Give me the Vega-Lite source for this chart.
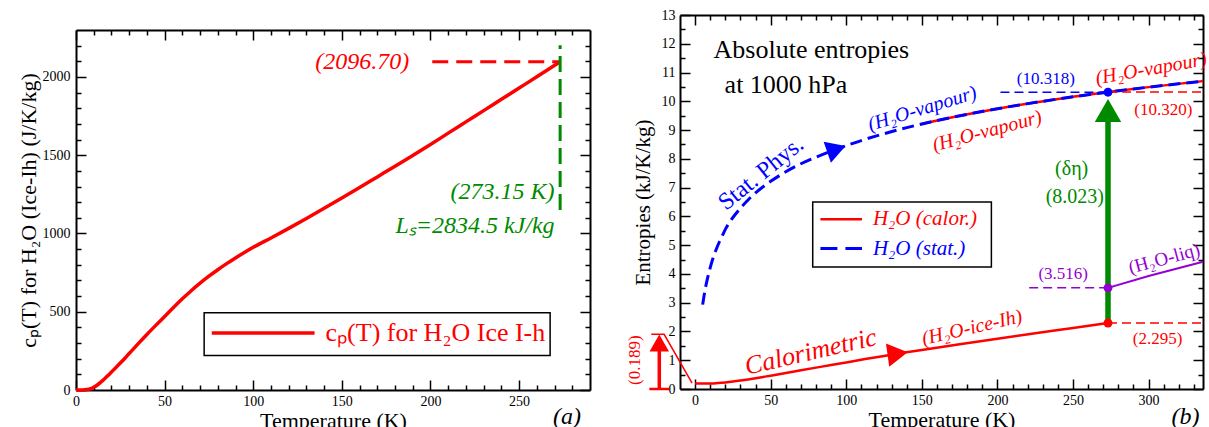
{
  "$schema": "https://vega.github.io/schema/vega-lite/v6.json",
  "background": "white",
  "padding": {"left": 17, "top": 8, "right": 0, "bottom": 0},
  "config": {"view": {"stroke": null}, "font": "Liberation Serif", "axis": {"grid": false}},
  "datasets": {
    "cp": [
      {"T": 0, "cp": 0}, {"T": 3, "cp": 0.5}, {"T": 5, "cp": 2}, {"T": 7, "cp": 5}, {"T": 9, "cp": 11},
      {"T": 10, "cp": 17}, {"T": 12, "cp": 32}, {"T": 14, "cp": 50}, {"T": 16, "cp": 70}, {"T": 18, "cp": 92},
      {"T": 20, "cp": 115}, {"T": 22, "cp": 138}, {"T": 25, "cp": 172}, {"T": 28, "cp": 208}, {"T": 30, "cp": 233},
      {"T": 35, "cp": 295}, {"T": 40, "cp": 355}, {"T": 45, "cp": 413}, {"T": 50, "cp": 470}, {"T": 55, "cp": 527.5},
      {"T": 60, "cp": 582.5}, {"T": 65, "cp": 634.5}, {"T": 70, "cp": 682.5}, {"T": 75, "cp": 727}, {"T": 80, "cp": 768.5},
      {"T": 85, "cp": 807.5}, {"T": 90, "cp": 844}, {"T": 95, "cp": 878.5}, {"T": 100, "cp": 911.5}, {"T": 110, "cp": 971.5},
      {"T": 120, "cp": 1032.5}, {"T": 130, "cp": 1095.5}, {"T": 140, "cp": 1160.5}, {"T": 150, "cp": 1226.5}, {"T": 160, "cp": 1293.5},
      {"T": 170, "cp": 1361.5}, {"T": 180, "cp": 1429.5}, {"T": 190, "cp": 1498.5}, {"T": 200, "cp": 1568.5}, {"T": 210, "cp": 1641},
      {"T": 220, "cp": 1713}, {"T": 230, "cp": 1785}, {"T": 240, "cp": 1857}, {"T": 250, "cp": 1929}, {"T": 260, "cp": 2001},
      {"T": 273.15, "cp": 2096.7}
    ],
    "ice": [
      {"T": 0, "S": 0.189}, {"T": 5, "S": 0.189}, {"T": 10, "S": 0.19}, {"T": 15, "S": 0.205}, {"T": 20, "S": 0.228},
      {"T": 25, "S": 0.258}, {"T": 30, "S": 0.294}, {"T": 35, "S": 0.334}, {"T": 40, "S": 0.376}, {"T": 45, "S": 0.42},
      {"T": 50, "S": 0.464}, {"T": 60, "S": 0.555}, {"T": 70, "S": 0.65}, {"T": 80, "S": 0.743}, {"T": 90, "S": 0.835},
      {"T": 100, "S": 0.923}, {"T": 112.5, "S": 1.04}, {"T": 125, "S": 1.15}, {"T": 137.5, "S": 1.257}, {"T": 150, "S": 1.359},
      {"T": 175, "S": 1.557}, {"T": 200, "S": 1.749}, {"T": 225, "S": 1.937}, {"T": 250, "S": 2.123}, {"T": 273.15, "S": 2.295}
    ],
    "vap": [
      {"T": 5, "S": 2.932}, {"T": 6, "S": 3.27}, {"T": 7, "S": 3.554}, {"T": 8, "S": 3.8}, {"T": 9, "S": 4.02},
      {"T": 10, "S": 4.22}, {"T": 12, "S": 4.57}, {"T": 14, "S": 4.86}, {"T": 16, "S": 5.11}, {"T": 18, "S": 5.33},
      {"T": 20, "S": 5.55}, {"T": 23, "S": 5.81}, {"T": 26, "S": 6.03}, {"T": 30, "S": 6.29}, {"T": 35, "S": 6.57},
      {"T": 40, "S": 6.82}, {"T": 45, "S": 7.03}, {"T": 50, "S": 7.22}, {"T": 60, "S": 7.55}, {"T": 70, "S": 7.83},
      {"T": 80, "S": 8.06}, {"T": 90, "S": 8.27}, {"T": 100, "S": 8.463}, {"T": 120, "S": 8.799}, {"T": 140, "S": 9.085},
      {"T": 160, "S": 9.33}, {"T": 180, "S": 9.548}, {"T": 200, "S": 9.742}, {"T": 220, "S": 9.919}, {"T": 240, "S": 10.08},
      {"T": 260, "S": 10.228}, {"T": 273.15, "S": 10.318}, {"T": 290, "S": 10.429}, {"T": 310, "S": 10.552}, {"T": 336, "S": 10.7}
    ],
    "vapcal": [
      {"T": 150, "S": 9.212}, {"T": 175, "S": 9.496}, {"T": 200, "S": 9.744}, {"T": 225, "S": 9.962},
      {"T": 250, "S": 10.156}, {"T": 273.15, "S": 10.32}, {"T": 300, "S": 10.493}, {"T": 336, "S": 10.702}
    ],
    "liq": [
      {"T": 273.15, "S": 3.516}, {"T": 300, "S": 3.93}, {"T": 336, "S": 4.42}
    ]
  },
  "spacing": 35,
  "hconcat": [
    {
      "bounds": "flush",
      "spacing": 0,
      "vconcat": [
        {"width": 514, "height": 15, "data": {"values": [{"a": 1}]}, "mark": {"type": "point", "opacity": 0}},
        {
          "width": 514,
          "height": 360,
          "resolve": {"scale": {"x": "independent", "y": "independent"}},
          "layer": [
            {
              "encoding": {
                "x": {"field": "T", "type": "quantitative", "scale": {"domain": [0, 290], "nice": false, "zero": false},
                  "axis": {"orient": "bottom", "values": [0, 50, 100, 150, 200, 250], "format": "d", "tickSize": -10, "tickWidth": 1.5, "tickColor": "black",
                    "domain": true, "domainColor": "black", "domainWidth": 2, "labelFont": "Liberation Serif", "labelFontSize": 14, "labelColor": "black",
                    "labelPadding": 14, "labelFlush": false, "labelOverlap": false, "title": "Temperature (K)", "titleFont": "Liberation Serif",
                    "titleFontSize": 22, "titleFontWeight": "normal", "titleColor": "black", "titlePadding": 2}},
                "y": {"field": "cp", "type": "quantitative", "scale": {"domain": [0, 2300], "nice": false, "zero": false},
                  "axis": {"orient": "left", "values": [0, 500, 1000, 1500, 2000], "format": "d", "tickSize": -10, "tickWidth": 1.5, "tickColor": "black",
                    "domain": true, "domainColor": "black", "domainWidth": 2, "labelFont": "Liberation Serif", "labelFontSize": 14, "labelColor": "black",
                    "labelPadding": 16, "labelFlush": false, "labelOverlap": false, "title": "cₚ(T) for H₂O (Ice-Ih) (J/K/kg)", "titleFont": "Liberation Serif",
                    "titleFontSize": 22, "titleFontWeight": "normal", "titleColor": "black", "titlePadding": 2}}
              },
              "layer": [
                {"data": {"values": [{"T": 72.3, "T2": 267.5, "cp": 221, "cp2": 493}]},
                 "mark": {"type": "rect", "fill": "white", "stroke": "black", "strokeWidth": 1.5},
                 "encoding": {"x2": {"field": "T2"}, "y2": {"field": "cp2"}}},
                {"data": {"name": "cp"}, "mark": {"type": "line", "color": "#ff0000", "strokeWidth": 3.5, "interpolate": "monotone"}},
                {"data": {"values": [{"T": 201, "T2": 273.15, "cp": 2096.7}]},
                 "mark": {"type": "rule", "color": "#ff0000", "strokeWidth": 3, "strokeDash": [16, 8]},
                 "encoding": {"x2": {"field": "T2"}}},
                {"data": {"values": [{"T": 273.15, "cp": 1150, "cp2": 2202}]},
                 "mark": {"type": "rule", "color": "#008a00", "strokeWidth": 3, "strokeDash": [16, 7]},
                 "encoding": {"y2": {"field": "cp2"}}},
                {"data": {"values": [{"T": 76.6, "T2": 134.6, "cp": 364}]},
                 "mark": {"type": "rule", "color": "#ff0000", "strokeWidth": 3.5},
                 "encoding": {"x2": {"field": "T2"}}},
                {"data": {"values": [{"T": 188, "cp": 2093, "label": "(2096.70)"}]},
                 "mark": {"type": "text", "color": "#ff0000", "font": "Liberation Serif", "fontStyle": "italic", "fontSize": 24, "align": "right", "baseline": "middle"},
                 "encoding": {"text": {"field": "label"}}},
                {"data": {"values": [{"T": 270, "cp": 1262, "label": "(273.15 K)"}, {"T": 270, "cp": 1045, "label": "Lₛ=2834.5 kJ/kg"}]},
                 "mark": {"type": "text", "color": "#008a00", "font": "Liberation Serif", "fontStyle": "italic", "fontSize": 24, "align": "right", "baseline": "middle"},
                 "encoding": {"text": {"field": "label"}}},
                {"data": {"values": [{"T": 140.8, "cp": 364, "label": "cₚ(T) for H₂O Ice I-h"}]},
                 "mark": {"type": "text", "color": "#ff0000", "font": "Liberation Serif", "fontSize": 26, "align": "left", "baseline": "middle"},
                 "encoding": {"text": {"field": "label"}}},
                {"data": {"values": [{"T": 277, "cp": -170, "label": "(a)"}]},
                 "mark": {"type": "text", "color": "black", "font": "Liberation Serif", "fontStyle": "italic", "fontSize": 24, "align": "center", "baseline": "middle"},
                 "encoding": {"text": {"field": "label"}}}
              ]
            },
            {
              "data": {"values": [{"T": 0, "cp": 0}]},
              "mark": {"type": "point", "opacity": 0},
              "encoding": {
                "x": {"field": "T", "type": "quantitative", "scale": {"domain": [0, 290], "nice": false, "zero": false},
                  "axis": {"orient": "bottom", "values": [10, 20, 30, 40, 60, 70, 80, 90, 110, 120, 130, 140, 160, 170, 180, 190, 210, 220, 230, 240, 260, 270, 280],
                    "tickSize": -5, "tickWidth": 1.5, "tickColor": "black", "domain": false, "labels": false, "title": null}},
                "y": {"field": "cp", "type": "quantitative", "scale": {"domain": [0, 2300], "nice": false, "zero": false},
                  "axis": {"orient": "left", "values": [100, 200, 300, 400, 600, 700, 800, 900, 1100, 1200, 1300, 1400, 1600, 1700, 1800, 1900, 2100, 2200],
                    "tickSize": -5, "tickWidth": 1.5, "tickColor": "black", "domain": false, "labels": false, "title": null}}
              }
            },
            {
              "data": {"values": [{"T": 0, "cp": 0}]},
              "mark": {"type": "point", "opacity": 0},
              "encoding": {
                "x": {"field": "T", "type": "quantitative", "scale": {"domain": [0, 290], "nice": false, "zero": false},
                  "axis": {"orient": "top", "values": [0, 50, 100, 150, 200, 250],
                    "tickSize": -10, "tickWidth": 1.5, "tickColor": "black", "domain": true, "domainColor": "black", "domainWidth": 2, "labels": false, "title": null}},
                "y": {"field": "cp", "type": "quantitative", "scale": {"domain": [0, 2300], "nice": false, "zero": false},
                  "axis": {"orient": "right", "values": [0, 500, 1000, 1500, 2000],
                    "tickSize": -10, "tickWidth": 1.5, "tickColor": "black", "domain": true, "domainColor": "black", "domainWidth": 2, "labels": false, "title": null}}
              }
            },
            {
              "data": {"values": [{"T": 0, "cp": 0}]},
              "mark": {"type": "point", "opacity": 0},
              "encoding": {
                "x": {"field": "T", "type": "quantitative", "scale": {"domain": [0, 290], "nice": false, "zero": false},
                  "axis": {"orient": "top", "values": [10, 20, 30, 40, 60, 70, 80, 90, 110, 120, 130, 140, 160, 170, 180, 190, 210, 220, 230, 240, 260, 270, 280],
                    "tickSize": -5, "tickWidth": 1.5, "tickColor": "black", "domain": false, "labels": false, "title": null}},
                "y": {"field": "cp", "type": "quantitative", "scale": {"domain": [0, 2300], "nice": false, "zero": false},
                  "axis": {"orient": "right", "values": [100, 200, 300, 400, 600, 700, 800, 900, 1100, 1200, 1300, 1400, 1600, 1700, 1800, 1900, 2100, 2200],
                    "tickSize": -5, "tickWidth": 1.5, "tickColor": "black", "domain": false, "labels": false, "title": null}}
              }
            }
          ]
        }
      ]
    },
    {
      "width": 523,
      "height": 374,
      "resolve": {"scale": {"x": "independent", "y": "independent"}},
      "layer": [
        {
          "encoding": {
            "x": {"field": "T", "type": "quantitative", "scale": {"domain": [-10, 336], "nice": false, "zero": false},
              "axis": {"orient": "bottom", "values": [0, 50, 100, 150, 200, 250, 300], "format": "d", "tickSize": -10, "tickWidth": 1.5, "tickColor": "black",
                "domain": true, "domainColor": "black", "domainWidth": 2, "labelFont": "Liberation Serif", "labelFontSize": 14, "labelColor": "black",
                "labelPadding": 14, "labelFlush": false, "labelOverlap": false, "title": "Temperature (K)", "titleFont": "Liberation Serif",
                "titleFontSize": 22, "titleFontWeight": "normal", "titleColor": "black", "titlePadding": 2}},
            "y": {"field": "S", "type": "quantitative", "scale": {"domain": [0, 13], "nice": false, "zero": false},
              "axis": {"orient": "left", "values": [0, 1, 2, 3, 4, 5, 6, 7, 8, 9, 10, 11, 12, 13], "format": "d", "tickSize": -10, "tickWidth": 1.5, "tickColor": "black",
                "domain": true, "domainColor": "black", "domainWidth": 2, "labelFont": "Liberation Serif", "labelFontSize": 14, "labelColor": "black",
                "labelPadding": 15, "labelFlush": false, "labelOverlap": false, "title": "Entropies (kJ/K/kg)", "titleFont": "Liberation Serif",
                "titleFontSize": 21, "titleFontWeight": "normal", "titleColor": "black", "titlePadding": 8}}
          },
          "layer": [
            {"data": {"values": [{"T": 77.8, "T2": 196, "S": 4.24, "S2": 6.5}]},
             "mark": {"type": "rect", "fill": "white", "stroke": "black", "strokeWidth": 1.5},
             "encoding": {"x2": {"field": "T2"}, "y2": {"field": "S2"}}},
            {"data": {"name": "vapcal"}, "mark": {"type": "line", "color": "#ff0000", "strokeWidth": 2.5, "interpolate": "monotone"}},
            {"data": {"name": "vap"}, "mark": {"type": "line", "color": "#0000ff", "strokeWidth": 3, "strokeDash": [12, 6], "interpolate": "monotone"}},
            {"data": {"name": "ice"}, "mark": {"type": "line", "color": "#ff0000", "strokeWidth": 2.5, "interpolate": "monotone"}},
            {"data": {"name": "liq"}, "mark": {"type": "line", "color": "#9400d3", "strokeWidth": 2}},
            {"data": {"values": [{"T": 202, "T2": 273.15, "S": 10.318}]},
             "mark": {"type": "rule", "color": "#0000ff", "strokeWidth": 1.5, "strokeDash": [9, 5]},
             "encoding": {"x2": {"field": "T2"}}},
            {"data": {"values": [{"T": 273.15, "T2": 336, "S": 10.32}, {"T": 273.15, "T2": 336, "S": 2.295}]},
             "mark": {"type": "rule", "color": "#ff0000", "strokeWidth": 1.5, "strokeDash": [9, 5]},
             "encoding": {"x2": {"field": "T2"}}},
            {"data": {"values": [{"T": 221, "T2": 273.15, "S": 3.516}]},
             "mark": {"type": "rule", "color": "#9400d3", "strokeWidth": 1.5, "strokeDash": [9, 5]},
             "encoding": {"x2": {"field": "T2"}}},
            {"data": {"values": [{"T": 273.15, "S": 2.295, "S2": 9.5}]},
             "mark": {"type": "rule", "color": "#008a00", "strokeWidth": 5.5},
             "encoding": {"y2": {"field": "S2"}}},
            {"data": {"values": [{"T": 273.15, "S": 9.68}]},
             "mark": {"type": "point", "shape": "triangle-up", "filled": true, "opacity": 1, "color": "#008a00", "size": 700}},
            {"data": {"values": [{"T": 273.15, "S": 2.295}]},
             "mark": {"type": "point", "shape": "circle", "filled": true, "opacity": 1, "color": "#ff0000", "size": 80}},
            {"data": {"values": [{"T": 273.15, "S": 3.516}]},
             "mark": {"type": "point", "shape": "circle", "filled": true, "opacity": 1, "color": "#9400d3", "size": 80}},
            {"data": {"values": [{"T": 273.15, "S": 10.318}]},
             "mark": {"type": "point", "shape": "circle", "filled": true, "opacity": 1, "color": "#0000ff", "size": 80}},
            {"data": {"values": [{"T": 93.5, "S": 8.34}]},
             "mark": {"type": "point", "shape": "triangle-right", "filled": true, "opacity": 1, "color": "#0000ff", "size": 500, "angle": -19}},
            {"data": {"values": [{"T": 134, "S": 1.225}]},
             "mark": {"type": "point", "shape": "triangle-right", "filled": true, "opacity": 1, "color": "#ff0000", "size": 550, "angle": -8}},
            {"data": {"values": [{"T": -23.7, "S": 0, "S2": 1.5}]},
             "mark": {"type": "rule", "color": "#ff0000", "strokeWidth": 3.5},
             "encoding": {"y2": {"field": "S2"}}},
            {"data": {"values": [{"T": -23.7, "S": 1.6}]},
             "mark": {"type": "point", "shape": "triangle-up", "filled": true, "opacity": 1, "color": "#ff0000", "size": 380}},
            {"data": {"values": [{"T": -30.3, "T2": -17.1, "S": 0}]},
             "mark": {"type": "rule", "color": "#ff0000", "strokeWidth": 2.5},
             "encoding": {"x2": {"field": "T2"}}},
            {"data": {"values": [{"T": -29, "S": 1.9}, {"T": -20.5, "S": 1.9}, {"T": -2, "S": 0.2}]},
             "mark": {"type": "line", "color": "#ff0000", "strokeWidth": 1.5}},
            {"data": {"values": [{"T": 82.9, "T2": 110.4, "S": 5.9}]},
             "mark": {"type": "rule", "color": "#ff0000", "strokeWidth": 2.5},
             "encoding": {"x2": {"field": "T2"}}},
            {"data": {"values": [{"T": 82.9, "T2": 110.4, "S": 4.88}]},
             "mark": {"type": "rule", "color": "#0000ff", "strokeWidth": 3, "strokeDash": [17, 8]},
             "encoding": {"x2": {"field": "T2"}}},
            {"data": {"values": [{"T": 12.2, "S": 11.77, "label": "Absolute entropies"}, {"T": 19.5, "S": 10.55, "label": "at 1000 hPa"}]},
             "mark": {"type": "text", "color": "black", "font": "Liberation Serif", "fontSize": 26, "align": "left", "baseline": "middle"},
             "encoding": {"text": {"field": "label"}}},
            {"data": {"values": [{"T": 232, "S": 10.79, "label": "(10.318)"}]},
             "mark": {"type": "text", "color": "#0000ff", "font": "Liberation Serif", "fontSize": 17, "align": "center", "baseline": "middle"},
             "encoding": {"text": {"field": "label"}}},
            {"data": {"values": [{"T": 309.7, "S": 9.69, "label": "(10.320)"}, {"T": 306, "S": 1.75, "label": "(2.295)"}]},
             "mark": {"type": "text", "color": "#ff0000", "font": "Liberation Serif", "fontSize": 17, "align": "center", "baseline": "middle"},
             "encoding": {"text": {"field": "label"}}},
            {"data": {"values": [{"T": 265, "S": 10.79, "label": "(H₂O-vapour)"}]},
             "mark": {"type": "text", "color": "#ff0000", "font": "Liberation Serif", "fontStyle": "italic", "fontSize": 20, "align": "left", "baseline": "middle", "angle": -10},
             "encoding": {"text": {"field": "label"}}},
            {"data": {"values": [{"T": 150.3, "S": 9.74, "label": "(H₂O-vapour)"}]},
             "mark": {"type": "text", "color": "#0000ff", "font": "Liberation Serif", "fontStyle": "italic", "fontSize": 20, "align": "center", "baseline": "middle", "angle": -17},
             "encoding": {"text": {"field": "label"}}},
            {"data": {"values": [{"T": 193.2, "S": 8.96, "label": "(H₂O-vapour)"}]},
             "mark": {"type": "text", "color": "#ff0000", "font": "Liberation Serif", "fontStyle": "italic", "fontSize": 20, "align": "center", "baseline": "middle", "angle": -15},
             "encoding": {"text": {"field": "label"}}},
            {"data": {"values": [{"T": 43.7, "S": 7.49, "label": "Stat.  Phys."}]},
             "mark": {"type": "text", "color": "#0000ff", "font": "Liberation Serif", "fontSize": 24, "align": "center", "baseline": "middle", "angle": -39},
             "encoding": {"text": {"field": "label"}}},
            {"data": {"values": [{"T": 249.1, "S": 7.66, "label": "(δη)"}, {"T": 251.2, "S": 6.67, "label": "(8.023)"}]},
             "mark": {"type": "text", "color": "#008a00", "font": "Liberation Serif", "fontSize": 20, "align": "center", "baseline": "middle"},
             "encoding": {"text": {"field": "label"}}},
            {"data": {"values": [{"T": 243.5, "S": 3.99, "label": "(3.516)"}]},
             "mark": {"type": "text", "color": "#9400d3", "font": "Liberation Serif", "fontSize": 17, "align": "center", "baseline": "middle"},
             "encoding": {"text": {"field": "label"}}},
            {"data": {"values": [{"T": 310.3, "S": 4.53, "label": "(H₂O-liq)"}]},
             "mark": {"type": "text", "color": "#9400d3", "font": "Liberation Serif", "fontSize": 19, "align": "center", "baseline": "middle", "angle": -15},
             "encoding": {"text": {"field": "label"}}},
            {"data": {"values": [{"T": 183.2, "S": 2.13, "label": "(H₂O-ice-Ih)"}]},
             "mark": {"type": "text", "color": "#ff0000", "font": "Liberation Serif", "fontStyle": "italic", "fontSize": 20, "align": "center", "baseline": "middle", "angle": -13},
             "encoding": {"text": {"field": "label"}}},
            {"data": {"values": [{"T": 76.5, "S": 1.29, "label": "Calorimetric"}]},
             "mark": {"type": "text", "color": "#ff0000", "font": "Liberation Serif", "fontStyle": "italic", "fontSize": 26, "align": "center", "baseline": "middle", "angle": -13},
             "encoding": {"text": {"field": "label"}}},
            {"data": {"values": [{"T": -39.6, "S": 1.0, "label": "(0.189)"}]},
             "mark": {"type": "text", "color": "#ff0000", "font": "Liberation Serif", "fontSize": 17, "align": "center", "baseline": "middle", "angle": 270},
             "encoding": {"text": {"field": "label"}}},
            {"data": {"values": [{"T": 117.6, "S": 5.9, "label": "H₂O (calor.)"}]},
             "mark": {"type": "text", "color": "#ff0000", "font": "Liberation Serif", "fontStyle": "italic", "fontSize": 21, "align": "left", "baseline": "middle"},
             "encoding": {"text": {"field": "label"}}},
            {"data": {"values": [{"T": 117.6, "S": 4.88, "label": "H₂O (stat.)"}]},
             "mark": {"type": "text", "color": "#0000ff", "font": "Liberation Serif", "fontStyle": "italic", "fontSize": 21, "align": "left", "baseline": "middle"},
             "encoding": {"text": {"field": "label"}}},
            {"data": {"values": [{"T": 324.4, "S": -0.97, "label": "(b)"}]},
             "mark": {"type": "text", "color": "black", "font": "Liberation Serif", "fontStyle": "italic", "fontSize": 24, "align": "center", "baseline": "middle"},
             "encoding": {"text": {"field": "label"}}}
          ]
        },
        {
          "data": {"values": [{"T": 0, "S": 0}]},
          "mark": {"type": "point", "opacity": 0},
          "encoding": {
            "x": {"field": "T", "type": "quantitative", "scale": {"domain": [-10, 336], "nice": false, "zero": false},
              "axis": {"orient": "bottom", "values": [10, 20, 30, 40, 60, 70, 80, 90, 110, 120, 130, 140, 160, 170, 180, 190, 210, 220, 230, 240, 260, 270, 280, 290, 310, 320, 330],
                "tickSize": -5, "tickWidth": 1.5, "tickColor": "black", "domain": false, "labels": false, "title": null}},
            "y": {"field": "S", "type": "quantitative", "scale": {"domain": [0, 13], "nice": false, "zero": false},
              "axis": {"orient": "left", "values": [0.5, 1.5, 2.5, 3.5, 4.5, 5.5, 6.5, 7.5, 8.5, 9.5, 10.5, 11.5, 12.5],
                "tickSize": -5, "tickWidth": 1.5, "tickColor": "black", "domain": false, "labels": false, "title": null}}
          }
        },
        {
          "data": {"values": [{"T": 0, "S": 0}]},
          "mark": {"type": "point", "opacity": 0},
          "encoding": {
            "x": {"field": "T", "type": "quantitative", "scale": {"domain": [-10, 336], "nice": false, "zero": false},
              "axis": {"orient": "top", "values": [0, 50, 100, 150, 200, 250, 300],
                "tickSize": -10, "tickWidth": 1.5, "tickColor": "black", "domain": true, "domainColor": "black", "domainWidth": 2, "labels": false, "title": null}},
            "y": {"field": "S", "type": "quantitative", "scale": {"domain": [0, 13], "nice": false, "zero": false},
              "axis": {"orient": "right", "values": [0, 1, 2, 3, 4, 5, 6, 7, 8, 9, 10, 11, 12, 13],
                "tickSize": -10, "tickWidth": 1.5, "tickColor": "black", "domain": true, "domainColor": "black", "domainWidth": 2, "labels": false, "title": null}}
          }
        },
        {
          "data": {"values": [{"T": 0, "S": 0}]},
          "mark": {"type": "point", "opacity": 0},
          "encoding": {
            "x": {"field": "T", "type": "quantitative", "scale": {"domain": [-10, 336], "nice": false, "zero": false},
              "axis": {"orient": "top", "values": [10, 20, 30, 40, 60, 70, 80, 90, 110, 120, 130, 140, 160, 170, 180, 190, 210, 220, 230, 240, 260, 270, 280, 290, 310, 320, 330],
                "tickSize": -5, "tickWidth": 1.5, "tickColor": "black", "domain": false, "labels": false, "title": null}},
            "y": {"field": "S", "type": "quantitative", "scale": {"domain": [0, 13], "nice": false, "zero": false},
              "axis": {"orient": "right", "values": [0.5, 1.5, 2.5, 3.5, 4.5, 5.5, 6.5, 7.5, 8.5, 9.5, 10.5, 11.5, 12.5],
                "tickSize": -5, "tickWidth": 1.5, "tickColor": "black", "domain": false, "labels": false, "title": null}}
          }
        }
      ]
    }
  ]
}
